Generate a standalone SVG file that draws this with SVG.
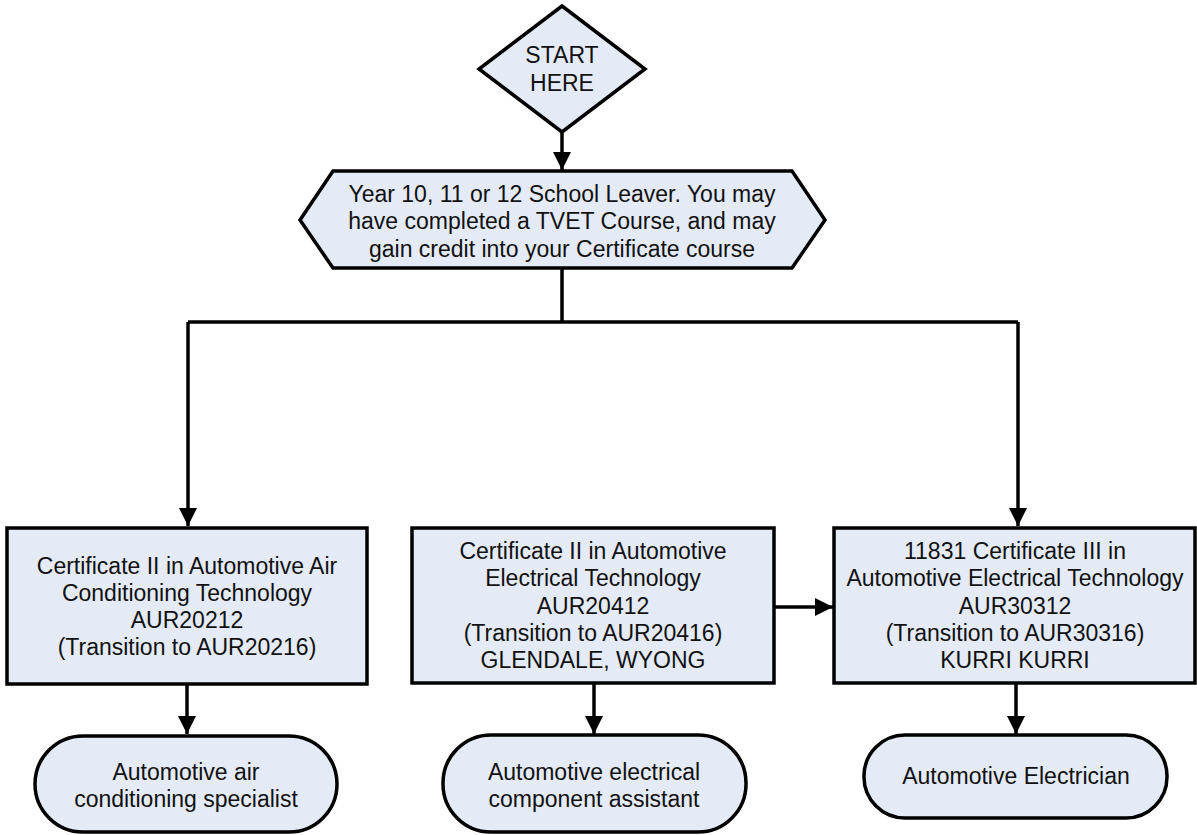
<svg xmlns="http://www.w3.org/2000/svg" width="1197" height="835" viewBox="0 0 1197 835">
<defs>
<style>
.shape{fill:#E4EBF7;stroke:#000;stroke-width:3.5;stroke-linejoin:miter}
.t{font-family:"Liberation Sans",Arial,sans-serif;font-size:23px;fill:#111;text-anchor:middle}
.c{fill:none;stroke:#000;stroke-width:3.5}
</style>
<marker id="ah" markerUnits="userSpaceOnUse" markerWidth="18" markerHeight="18" viewBox="0 0 18 18" refX="18" refY="9" orient="auto">
<path d="M0,0 L18,9 L0,18 Z" fill="#000"/>
</marker>
</defs>
<rect width="1197" height="835" fill="#fff"/>
<g id="connectors">
<path class="c" d="M562,132 V170" marker-end="url(#ah)"/>
<path class="c" d="M562,268 V322 M188,322 H1018"/>
<path class="c" d="M188,322 V526" marker-end="url(#ah)"/>
<path class="c" d="M1018,322 V526" marker-end="url(#ah)"/>
<path class="c" d="M187,684 V734" marker-end="url(#ah)"/>
<path class="c" d="M594,683 V734" marker-end="url(#ah)"/>
<path class="c" d="M1016,683 V734" marker-end="url(#ah)"/>
<path class="c" d="M774,607 H833" marker-end="url(#ah)"/>
</g>
<g id="start">
<polygon class="shape" points="562,6 645,69 562,132 479,69"/>
<text class="t" x="562" y="63">START</text>
<text class="t" x="562" y="91">HERE</text>
</g>
<g id="leaver">
<polygon class="shape" points="300,220 333,171 792,171 825,220 792,268 333,268"/>
<text class="t" x="562" y="202">Year 10, 11 or 12 School Leaver. You may</text>
<text class="t" x="562" y="229">have completed a TVET Course, and may</text>
<text class="t" x="562" y="257">gain credit into your Certificate course</text>
</g>
<g id="cert-aircon">
<rect class="shape" x="7" y="528" width="360" height="156"/>
<text class="t" x="187" y="574">Certificate II in Automotive Air</text>
<text class="t" x="187" y="601">Conditioning Technology</text>
<text class="t" x="187" y="628">AUR20212</text>
<text class="t" x="187" y="655">(Transition to AUR20216)</text>
</g>
<g id="cert-elec2">
<rect class="shape" x="412" y="528" width="362" height="155"/>
<text class="t" x="593" y="559">Certificate II in Automotive</text>
<text class="t" x="593" y="586">Electrical Technology</text>
<text class="t" x="593" y="614">AUR20412</text>
<text class="t" x="593" y="641">(Transition to AUR20416)</text>
<text class="t" x="593" y="668">GLENDALE, WYONG</text>
</g>
<g id="cert-elec3">
<rect class="shape" x="834" y="528" width="361" height="155"/>
<text class="t" x="1015" y="559">11831 Certificate III in</text>
<text class="t" x="1015" y="586">Automotive Electrical Technology</text>
<text class="t" x="1015" y="614">AUR30312</text>
<text class="t" x="1015" y="641">(Transition to AUR30316)</text>
<text class="t" x="1015" y="668">KURRI KURRI</text>
</g>
<g id="job-aircon">
<rect class="shape" x="35" y="736" width="302" height="96" rx="48" ry="48"/>
<text class="t" x="186" y="780">Automotive air</text>
<text class="t" x="186" y="807">conditioning specialist</text>
</g>
<g id="job-component">
<rect class="shape" x="443" y="735" width="303" height="97" rx="48" ry="48"/>
<text class="t" x="594" y="780">Automotive electrical</text>
<text class="t" x="594" y="807">component assistant</text>
</g>
<g id="job-electrician">
<rect class="shape" x="864" y="735" width="303" height="83" rx="41" ry="41"/>
<text class="t" x="1016" y="784">Automotive Electrician</text>
</g>
</svg>
